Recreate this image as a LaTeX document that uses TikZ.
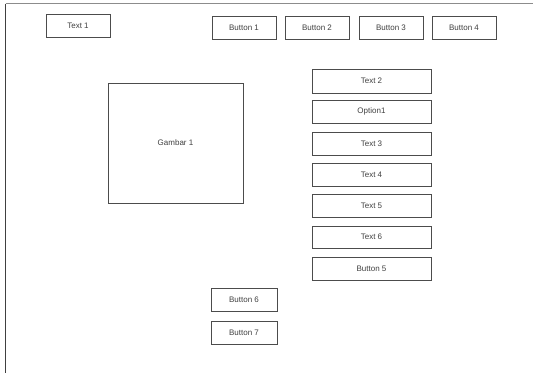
\documentclass[tikz,border=0pt]{standalone}
\usepackage{fontspec}
\setmainfont{Liberation Sans}
\begin{document}
\begin{tikzpicture}[x=1pt,y=-1pt,
  box/.style={draw=black!70,line width=0.8pt,fill=white,inner sep=0pt,font=\fontsize{8}{9}\selectfont,text=black!75},
  frame/.style={line width=1pt}]
\useasboundingbox (0,0) rectangle (533,373);
\fill[white] (0,0) rectangle (533,373);
\draw[frame,draw=black!45] (5.5,3.5) -- (533,3.5);
\draw[frame,draw=black!75] (5.5,3.5) -- (5.5,373);
\newcommand{\wbox}[6]{\node[box,minimum width=#4-#2,minimum height=#5-#3] (#1) at ({(#2+#4)/2},{(#3+#5)/2}) {#6};}
\wbox{t1}{46}{14}{110}{37}{Text 1}
\wbox{b1}{212}{16}{276}{39}{Button 1}
\wbox{b2}{285}{16}{349}{39}{Button 2}
\wbox{b3}{359}{16}{423}{39}{Button 3}
\wbox{b4}{432}{16}{496}{39}{Button 4}
\wbox{g1}{108}{83}{243}{203}{Gambar 1}
\wbox{t2}{312}{69}{431}{93}{Text 2}
\wbox{op}{312}{100}{431}{123}{Option1}
\wbox{t3}{312}{132}{431}{155}{Text 3}
\wbox{t4}{312}{163}{431}{186}{Text 4}
\wbox{t5}{312}{194}{431}{217}{Text 5}
\wbox{t6}{312}{226}{431}{248}{Text 6}
\wbox{b5}{312}{257}{431}{280}{Button 5}
\wbox{b6}{211}{288}{277}{311}{Button 6}
\wbox{b7}{211}{321}{277}{344}{Button 7}
\end{tikzpicture}
\end{document}
